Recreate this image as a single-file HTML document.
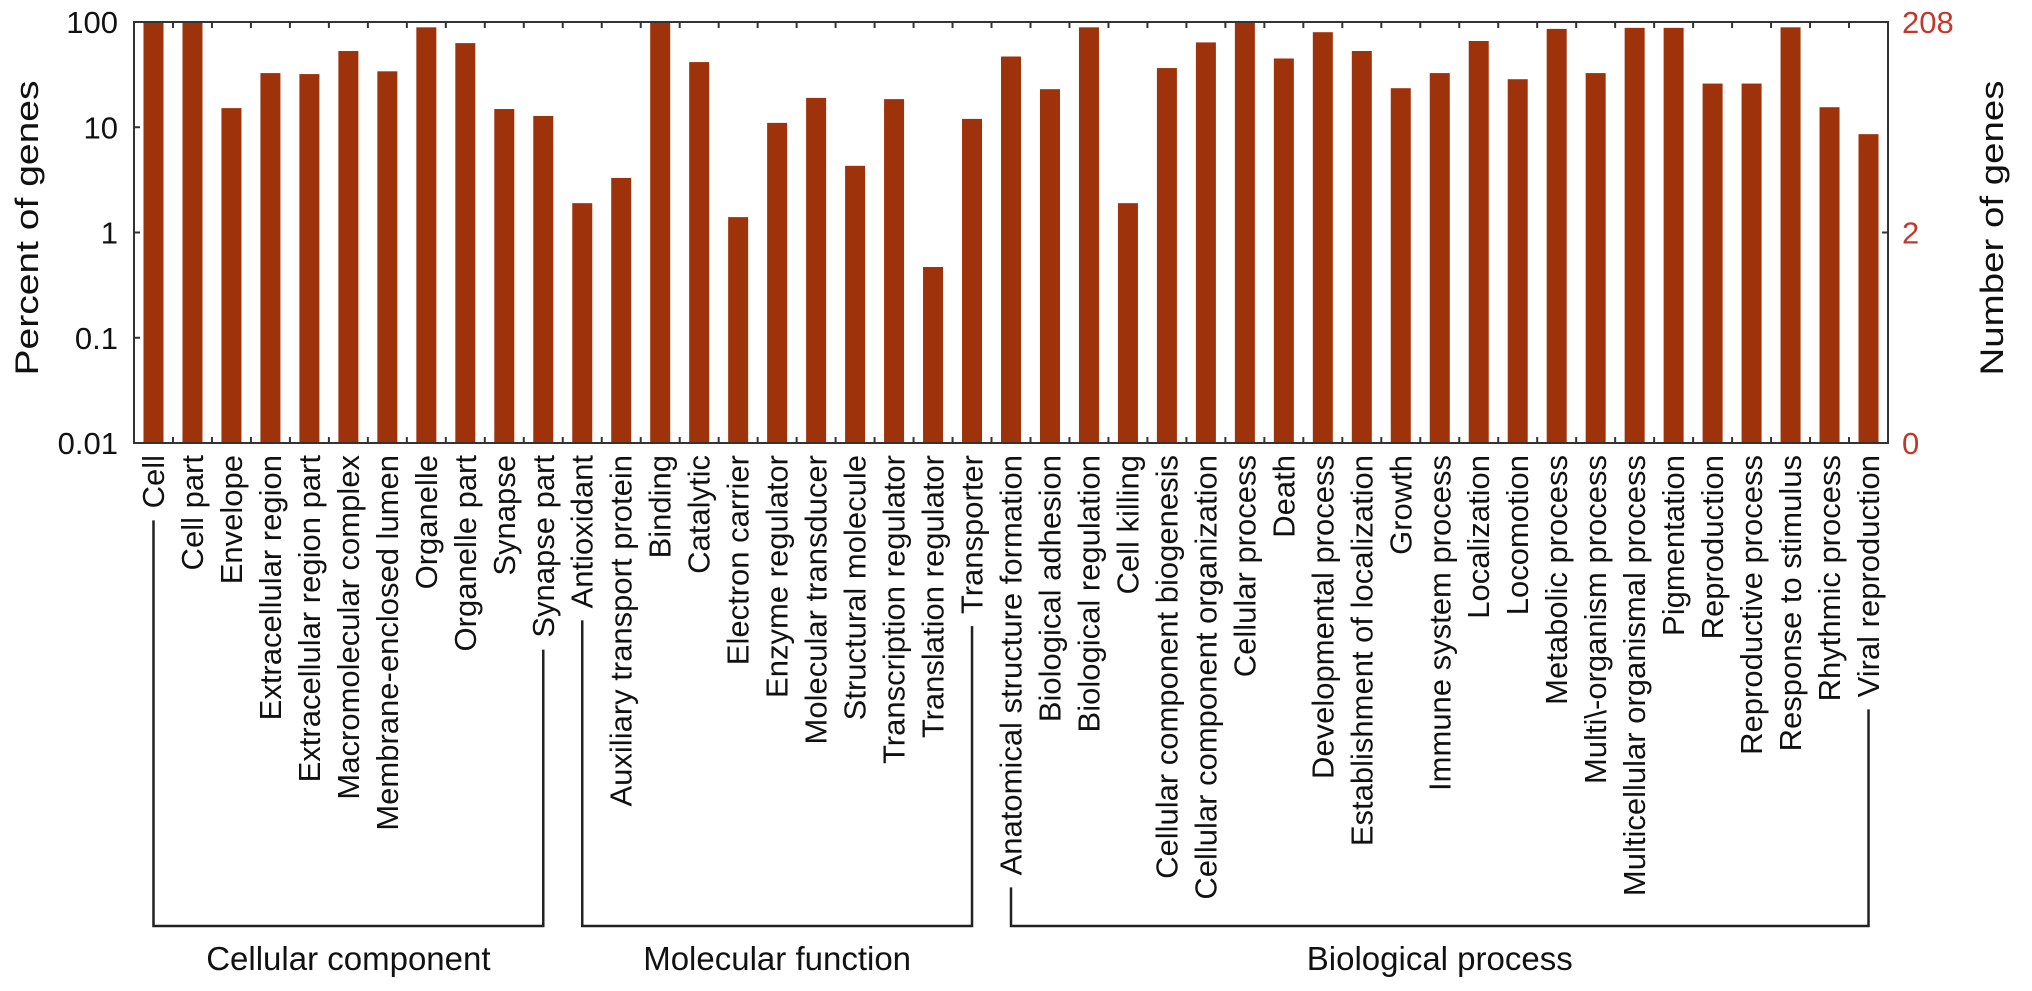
<!DOCTYPE html>
<html><head><meta charset="utf-8"><style>
html,body{margin:0;padding:0;background:#fff;}
svg{display:block;font-family:"Liberation Sans",Arial,sans-serif;}
</style></head><body>
<svg id="chart" width="2032" height="991" viewBox="0 0 2032 991" xmlns="http://www.w3.org/2000/svg">
<g id="bars"></g>
<g id="axes"></g>
<g id="labels"></g>
<g id="groups"></g>
<text x="0" y="0" font-size="32" fill="#111" text-anchor="middle" textLength="295" lengthAdjust="spacingAndGlyphs" transform="translate(38,228) rotate(-90)">Percent of genes</text>
<text x="0" y="0" font-size="32" fill="#111" text-anchor="middle" textLength="295" lengthAdjust="spacingAndGlyphs" transform="translate(2003,228) rotate(-90)">Number of genes</text>
</svg>
<script>
const categories = ["Cell","Cell part","Envelope","Extracellular region","Extracellular region part","Macromolecular complex","Membrane-enclosed lumen","Organelle","Organelle part","Synapse","Synapse part","Antioxidant","Auxiliary transport protein","Binding","Catalytic","Electron carrier","Enzyme regulator","Molecular transducer","Structural molecule","Transcription regulator","Translation regulator","Transporter","Anatomical structure formation","Biological adhesion","Biological regulation","Cell killing","Cellular component biogenesis","Cellular component organization","Cellular process","Death","Developmental process","Establishment of localization","Growth","Immune system process","Localization","Locomotion","Metabolic process","Multi\\-organism process","Multicellular organismal process","Pigmentation","Reproduction","Reproductive process","Response to stimulus","Rhythmic process","Viral reproduction"];
const percentValues = [100,100,15.2,32.7,32,53,34,89,63,14.9,12.8,1.9,3.3,98,41.6,1.4,11,19,4.3,18.5,0.47,12,47,23,89,1.9,36.5,64,100,45,80,53,23.5,32.7,66,28.6,86,32.7,88,88,26,26,89,15.5,8.6];
const leftTicks = [100,10,1,0.1,0.01];
const leftTickLabels = ["100","10","1","0.1","0.01"];
const rightTickLabels = ["208","2","0"];
const groupNames = ["Cellular component","Molecular function","Biological process"];
const groupStart = [0,11,22];
const groupEnd = [10,21,44];

const NS="http://www.w3.org/2000/svg";
const L=134,R=1888,T=22,B=443;
const slot=(R-L)/categories.length;
const xc=i=>L+slot*(i+0.5);
const yv=v=>T+(2-Math.log10(v))*(B-T)/4;
function mk(tag,attrs,parent){const e=document.createElementNS(NS,tag);for(const k in attrs)e.setAttribute(k,attrs[k]);parent.appendChild(e);return e;}
const bars=document.getElementById('bars'),axes=document.getElementById('axes'),labels=document.getElementById('labels'),groups=document.getElementById('groups');
const barColor="#9e320a", lineColor="#333";

percentValues.forEach((v,i)=>{
  const y=yv(v);
  const r=mk('rect',{x:xc(i)-10,y:y,width:20,height:B-y,fill:barColor},bars);
  
  
});

const frame=mk('rect',{x:L,y:T,width:R-L,height:B-T,fill:'none',stroke:lineColor,'stroke-width':2},axes);


for(let k=1;k<categories.length;k++){
  const x=L+slot*k;
  mk('line',{x1:x,x2:x,y1:T,y2:T+6,stroke:lineColor,'stroke-width':2},axes);
  mk('line',{x1:x,x2:x,y1:B,y2:B-6,stroke:lineColor,'stroke-width':2},axes);
}
leftTicks.forEach((t,i)=>{
  const y=yv(t);
  mk('line',{x1:L,x2:L+6,y1:y,y2:y,stroke:lineColor,'stroke-width':2},axes);
  const tx=mk('text',{x:118,y:y+11,'font-size':31,'text-anchor':'end',fill:'#111'},axes);
  tx.textContent=leftTickLabels[i];
  
  
});
const rightY=[T,yv(1),B];
rightTickLabels.forEach((t,i)=>{
  mk('line',{x1:R,x2:R-6,y1:rightY[i],y2:rightY[i],stroke:lineColor,'stroke-width':2},axes);
  const tx=mk('text',{x:1902,y:rightY[i]+11,'font-size':31,fill:'#c0392b'},axes);
  tx.textContent=t;
  
  
});

const ends=[];
categories.forEach((c,i)=>{
  const tx=mk('text',{x:0,y:0,'font-size':31,fill:'#111','text-anchor':'end',transform:`translate(${xc(i)+10.5},455) rotate(-90)`},labels);
  tx.textContent=c;
  
  
  ends.push(455+tx.getComputedTextLength());
});

const HY=926;
groupNames.forEach((g,k)=>{
  const a=groupStart[k],b=groupEnd[k];
  const x1=xc(a),x2=xc(b);
  const p=mk('path',{d:`M${x1},${ends[a]+12} V${HY} H${x2} V${ends[b]+12}`,fill:'none',stroke:'#222','stroke-width':2.5},groups);
  
  
  const tx=mk('text',{x:(x1+x2)/2,y:970,'font-size':33,'text-anchor':'middle',fill:'#111'},groups);
  tx.textContent=g;
  
  
});
</script>
</body></html>
